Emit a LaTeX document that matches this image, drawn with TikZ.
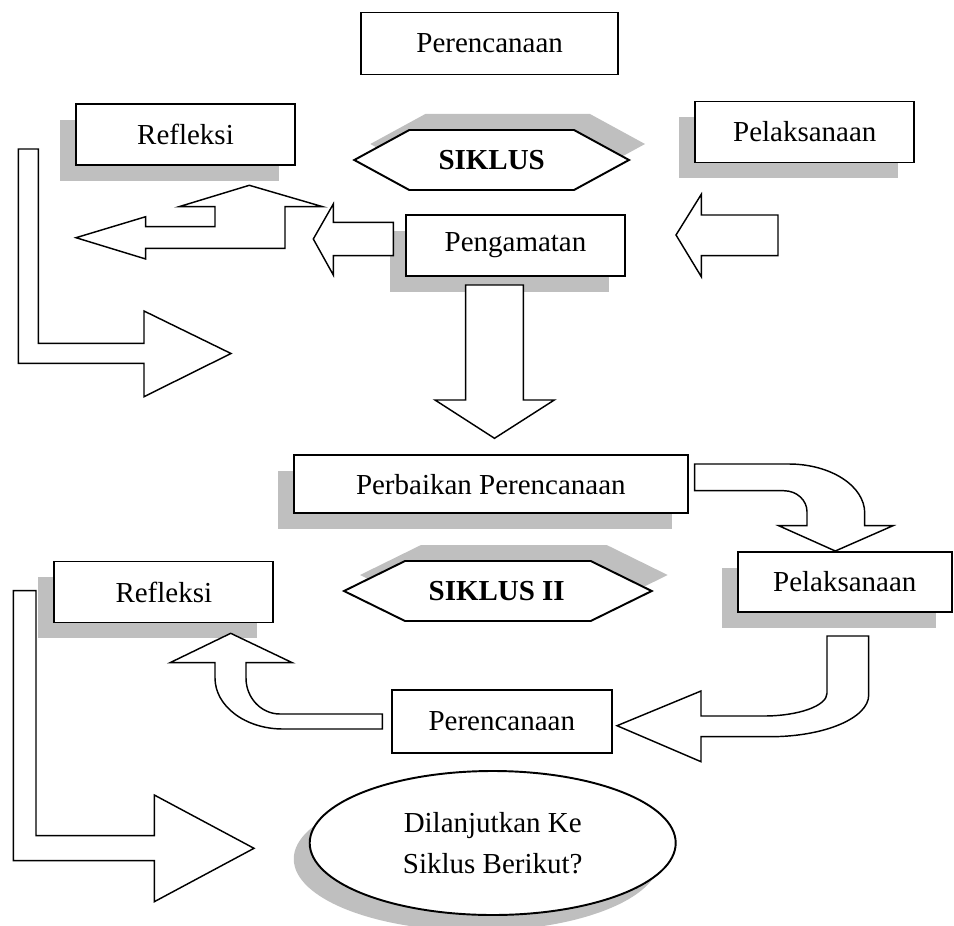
\documentclass[12pt,tikz,border=0pt]{standalone}
\usepackage{fontspec}
\setmainfont{Liberation Serif}
\usetikzlibrary{shapes.geometric,shadows}
\newcommand*{\px}{0.414pt}
\tikzset{
  box/.style={draw, line width=0.8pt, fill=white, inner sep=0pt},
  grayshadow/.style={drop shadow={shadow xshift=-6.6pt, shadow yshift=-6.6pt, fill=black!25, opacity=1}},
  barrow/.style={draw, line width=0.6pt, fill=white},
}
% hexagon label: left x, right x, inset, centre y
\newcommand*{\sikhex}[4]{%
  \fill[black!25, shift={(16,-16)}] (#1,#4) -- (#1+#3,#4-30) -- (#2-#3,#4-30) -- (#2,#4) -- (#2-#3,#4+30) -- (#1+#3,#4+30) -- cycle;
  \draw[box] (#1,#4) -- (#1+#3,#4-30) -- (#2-#3,#4-30) -- (#2,#4) -- (#2-#3,#4+30) -- (#1+#3,#4+30) -- cycle;}

\begin{document}
\begin{tikzpicture}[x=0.414pt, y=-0.414pt]
\useasboundingbox (0,0) rectangle (954,925);

% siklus I
\node[box, minimum width=257*\px, minimum height=62*\px] (plan1) at (489.7,43.5) {Perencanaan};
\node[box, grayshadow, minimum width=219*\px, minimum height=61*\px] (refl1) at (185.5,134.5) {Refleksi};
\node[box, grayshadow, minimum width=219*\px, minimum height=61*\px] (pel1) at (804.8,132) {Pelaksanaan};
\node[box, grayshadow, minimum width=219*\px, minimum height=61*\px] (amat) at (515.5,245.2) {Pengamatan};
\sikhex{354.3}{629}{55}{160}
\node[font=\bfseries] (sik1) at (491.7,160) {SIKLUS};

% siklus II
\node[box, grayshadow, minimum width=394*\px, minimum height=58*\px] (fix) at (490.8,484.2) {Perbaikan Perencanaan};
\node[box, grayshadow, minimum width=214*\px, minimum height=60*\px] (pel2) at (844.8,581.7) {Pelaksanaan};
\node[box, grayshadow, minimum width=219*\px, minimum height=61*\px] (refl2) at (163.8,592) {Refleksi};
\node[box, minimum width=220*\px, minimum height=63*\px] (plan2) at (501.8,721.3) {Perencanaan};
\sikhex{344}{651.7}{61}{591}
\node[font=\bfseries] (sik2) at (496.7,591) {SIKLUS II};
\node[box, ellipse, grayshadow, align=center, minimum width=366*\px, minimum height=144*\px] (lanjut) at (492.7,843) {Dilanjutkan Ke\\[2.5pt]Siklus Berikut?};

% block arrows, siklus I
\draw[barrow] (676,235) -- (701.3,194.3) -- (701.3,215) -- (778,215) -- (778,255.7) -- (701.3,255.7) -- (701.3,276.7) -- cycle;
\draw[barrow] (313.3,239) -- (333.3,204) -- (333.3,222.3) -- (393.3,222.3) -- (393.3,255.7) -- (333.3,255.7) -- (333.3,275) -- cycle;
\draw[barrow] (76,237.7) -- (145.7,216.7) -- (145.7,226.7) -- (215,226.7) -- (215,206.7) -- (179,206.7) -- (249.3,185.3) -- (322.7,206.7) -- (285,206.7) -- (285,248.3) -- (145.7,248.3) -- (145.7,259) -- cycle;
\draw[barrow] (18.3,149) -- (38.3,149) -- (38.3,343.3) -- (144,343.3) -- (144,311) -- (231,353.5) -- (144,396.7) -- (144,363.3) -- (18.3,363.3) -- cycle;
\draw[barrow] (465.7,285) -- (523.3,285) -- (523.3,400) -- (554.3,400) -- (494.5,438.3) -- (435,400) -- (465.7,400) -- cycle;

% block arrows, siklus II
\draw[barrow] (694.7,464) -- (788.7,464) .. controls (830.7,464) and (864.7,486) .. (864.7,513) -- (864.7,525.7) -- (893,525.7) -- (835.3,551) -- (778.7,525.7) -- (807,525.7) -- (807,511.7) .. controls (807,500) and (796.6,490.7) .. (783.7,490.7) -- (694.7,490.7) -- cycle;
\draw[barrow] (827,636) -- (868.7,636) -- (868.7,695) .. controls (868.7,718) and (824.6,736.7) .. (770,736.7) -- (701,736.7) -- (701,761.7) -- (617,725.7) -- (701,691) -- (701,716) -- (763.7,716) .. controls (798.6,716) and (827,705.8) .. (827,693.3) -- cycle;
\draw[barrow] (382.3,729) -- (283,729) .. controls (245.4,729) and (215,706.2) .. (215,678) -- (215,662.7) -- (170,662.7) -- (230.7,633.3) -- (292.3,662.7) -- (246,662.7) -- (246,678) .. controls (246,697.9) and (261.2,714) .. (280,714) -- (382.3,714) -- cycle;
\draw[barrow] (13.3,590.7) -- (36,590.7) -- (36,835.7) -- (154.3,835.7) -- (154.3,795) -- (254,848.3) -- (154.3,901.7) -- (154.3,860.7) -- (13.3,860.7) -- cycle;
\end{tikzpicture}
\end{document}
